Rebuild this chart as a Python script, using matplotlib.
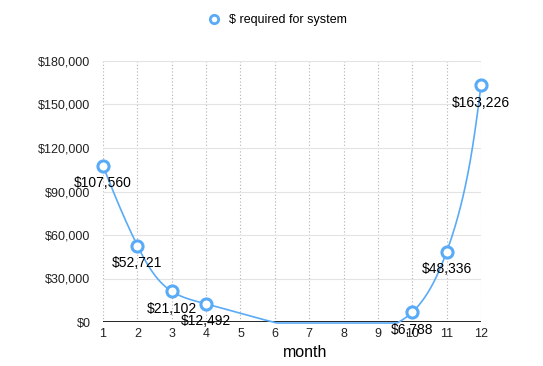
import numpy as np
import matplotlib.pyplot as plt
from matplotlib.ticker import FuncFormatter

plt.rcParams['font.family'] = ['Liberation Sans', 'DejaVu Sans']

months = [1, 2, 3, 4, 10, 11, 12]
required = [107560, 52721, 21102, 12492, 6788, 48336, 163226]
month_ticks = list(range(1, 13))
y_ticks = [0, 30000, 60000, 90000, 120000, 150000, 180000]
series_name = "$ required for system"

line_color = '#5aabf7'
W, H = 543, 366
ax_box = [103, 44, 378, 261]   # left, bottom, width, height in px


def natural_spline(t, y, ts):
    # natural cubic spline (no scipy)
    t = np.asarray(t, float)
    y = np.asarray(y, float)
    n = len(t)
    h = np.diff(t)
    A = np.zeros((n, n))
    r = np.zeros(n)
    A[0, 0] = A[-1, -1] = 1
    for i in range(1, n - 1):
        A[i, i - 1] = h[i - 1]
        A[i, i] = 2 * (h[i - 1] + h[i])
        A[i, i + 1] = h[i]
        r[i] = 3 * ((y[i + 1] - y[i]) / h[i] - (y[i] - y[i - 1]) / h[i - 1])
    c = np.linalg.solve(A, r)
    idx = np.clip(np.searchsorted(t, ts) - 1, 0, n - 2)
    dx = ts - t[idx]
    b = (y[idx + 1] - y[idx]) / h[idx] - h[idx] * (2 * c[idx] + c[idx + 1]) / 3
    d = (c[idx + 1] - c[idx]) / (3 * h[idx])
    return y[idx] + b * dx + c[idx] * dx ** 2 + d * dx ** 3


fig = plt.figure(figsize=(W / 100, H / 100), dpi=100)
ax = fig.add_axes([ax_box[0] / W, ax_box[1] / H, ax_box[2] / W, ax_box[3] / H])
ax.set_xlim(1, 12)
ax.set_ylim(0, 180000)

# smooth line: parametric spline in screen space (chord-length), like the source app
sx = (np.array(months) - 1) / 11 * ax_box[2]
sy = np.array(required) / 180000 * ax_box[3]
chord = np.r_[0, np.cumsum(np.hypot(np.diff(sx), np.diff(sy)))]
tt = np.linspace(0, chord[-1], 900)
cx = natural_spline(chord, sx, tt) / ax_box[2] * 11 + 1
cy = natural_spline(chord, sy, tt) / ax_box[3] * 180000
cy = np.maximum(cy, -700)  # the source clips the dip at the axis

ax.plot(cx, cy, color=line_color, lw=1.2, clip_on=False, zorder=3)
ax.plot(months, required, 'o', ms=8, mfc='white', mec=line_color, mew=2.2,
        clip_on=False, zorder=4)
ax.plot([], [], 'o', ms=6, mfc='white', mec=line_color, mew=2, label=series_name)

for m, v in zip(months, required):
    ax.annotate(f"${v:,}", (m, v), xytext=(0, -12.5), textcoords='offset points',
                ha='center', va='center', fontsize=10, color='black', zorder=5,
                annotation_clip=False)

ax.set_xticks(month_ticks)
ax.set_yticks(y_ticks)
ax.yaxis.set_major_formatter(FuncFormatter(lambda v, p: f"${v:,.0f}"))

for s in ax.spines.values():
    s.set_visible(False)
ax.tick_params(axis='both', length=0, labelsize=9, colors='#222222')
ax.tick_params(axis='y', pad=9)
ax.tick_params(axis='x', pad=4)

ax.grid(axis='y', color='#e3e3e3', lw=0.8)
ax.grid(axis='x', color='#b0b0b0', lw=0.8, linestyle=(0, (1, 2)))
ax.axhline(0, color='black', lw=1.2, zorder=2)

ax.set_xlabel("month", fontsize=11.5)
ax.xaxis.set_label_coords((305 - 103) / 378, -0.09)

fig.legend(loc='center', bbox_to_anchor=(277 / W, 1 - 20 / H), frameon=False,
           fontsize=9, handletextpad=0.6, handlelength=1.2)

plt.savefig('out.png', dpi=100)
